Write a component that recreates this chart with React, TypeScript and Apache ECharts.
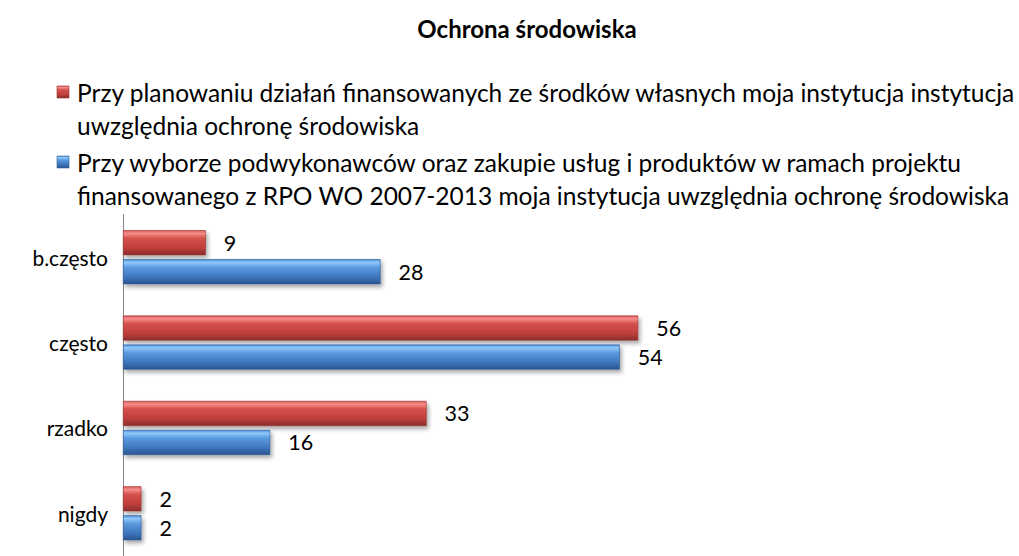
import React, { useEffect, useRef } from "react";
import * as echarts from "echarts";

const titleText = "Ochrona środowiska";
const categories = ["b.często", "często", "rzadko", "nigdy"];
const seriesNames = [
  "Przy planowaniu działań finansowanych ze środków własnych moja instytucja instytucja uwzględnia ochronę środowiska",
  "Przy wyborze podwykonawców oraz zakupie usług i produktów w ramach projektu finansowanego z RPO WO 2007-2013 moja instytucja uwzględnia ochronę środowiska",
];
const legendLines1 = [
  "Przy planowaniu działań finansowanych ze środków własnych moja instytucja instytucja",
  "uwzględnia ochronę środowiska",
];
const legendLines2 = [
  "Przy wyborze podwykonawców oraz zakupie usług i produktów w ramach projektu",
  "finansowanego z RPO WO 2007-2013 moja instytucja uwzględnia ochronę środowiska",
];
const ownFundsValues = [9, 56, 33, 2];
const rpoProjectValues = [28, 54, 16, 2];

const FONT = "Lato, 'Open Sans', sans-serif";

const redGrad = () =>
  new echarts.graphic.LinearGradient(0, 0, 0, 1, [
    { offset: 0, color: "#de5855" },
    { offset: 0.12, color: "#f58e8b" },
    { offset: 0.32, color: "#d6504c" },
    { offset: 0.72, color: "#bd3f3b" },
    { offset: 1, color: "#8a2d2a" },
  ]);
const blueGrad = () =>
  new echarts.graphic.LinearGradient(0, 0, 0, 1, [
    { offset: 0, color: "#4a8fdc" },
    { offset: 0.12, color: "#90c9fa" },
    { offset: 0.32, color: "#5b9be0" },
    { offset: 0.72, color: "#3e75bc" },
    { offset: 1, color: "#2a558e" },
  ]);

export default function App() {
  const ref = useRef<HTMLDivElement>(null);
  useEffect(() => {
    if (!ref.current) return;
    const chart = echarts.init(ref.current, null, { renderer: "svg" });

    const legendText = (lines: string[], centerY: number) =>
      lines.map((t, i) => ({
        type: "text",
        x: 77,
        y: centerY + i * 33,
        style: {
          text: t,
          font: `24.5px ${FONT}`,
          fill: "#000",
          align: "left",
          verticalAlign: "middle",
        },
      }));

    const marker = (y: number, grad: any, border: string) => ({
      type: "rect",
      shape: { x: 57, y, width: 12, height: 12 },
      style: { fill: grad, stroke: border, lineWidth: 0.6 },
    });

    const barLabel = {
      show: true,
      position: "right" as const,
      distance: 18,
      color: "#000",
      fontSize: 21.5,
      fontFamily: FONT,
    };

    const shadow = {
      shadowColor: "rgba(0,0,0,0.35)",
      shadowBlur: 4,
      shadowOffsetX: 2,
      shadowOffsetY: 3,
    };

    chart.setOption({
      animation: false,
      backgroundColor: "#ffffff",
      textStyle: { fontFamily: FONT },
      graphic: [
        {
          type: "text",
          x: 527,
          y: 28,
          style: {
            text: titleText,
            font: `bold 24px ${FONT}`,
            fill: "#000",
            align: "center",
            verticalAlign: "middle",
          },
        },
        marker(86, redGrad(), "#9b3431"),
        ...legendText(legendLines1, 92),
        marker(156, blueGrad(), "#2f5b94"),
        ...legendText(legendLines2, 162),
      ],
      grid: { left: 123, top: 214.5, width: 828, height: 356.5, containLabel: false },
      xAxis: {
        type: "value",
        min: 0,
        max: 90,
        show: false,
        splitLine: { show: false },
      },
      yAxis: {
        type: "category",
        data: categories,
        inverse: true,
        axisLine: { show: true, lineStyle: { color: "#868686", width: 1 } },
        axisTick: { show: false },
        axisLabel: { color: "#000", fontSize: 21, fontFamily: FONT, margin: 15 },
      },
      series: [
        {
          name: seriesNames[0],
          type: "bar",
          data: ownFundsValues,
          barWidth: 25,
          barGap: "16%",
          itemStyle: { color: redGrad(), borderColor: "#9b3431", borderWidth: 0.6, ...shadow },
          label: barLabel,
        },
        {
          name: seriesNames[1],
          type: "bar",
          data: rpoProjectValues,
          barWidth: 25,
          barGap: "16%",
          itemStyle: { color: blueGrad(), borderColor: "#2f5b94", borderWidth: 0.6, ...shadow },
          label: barLabel,
        },
      ],
    });
    return () => chart.dispose();
  }, []);
  return (
    <div
      ref={ref}
      style={{ position: "fixed", left: 0, top: 0, width: 1019, height: 556, background: "#fff" }}
    />
  );
}
